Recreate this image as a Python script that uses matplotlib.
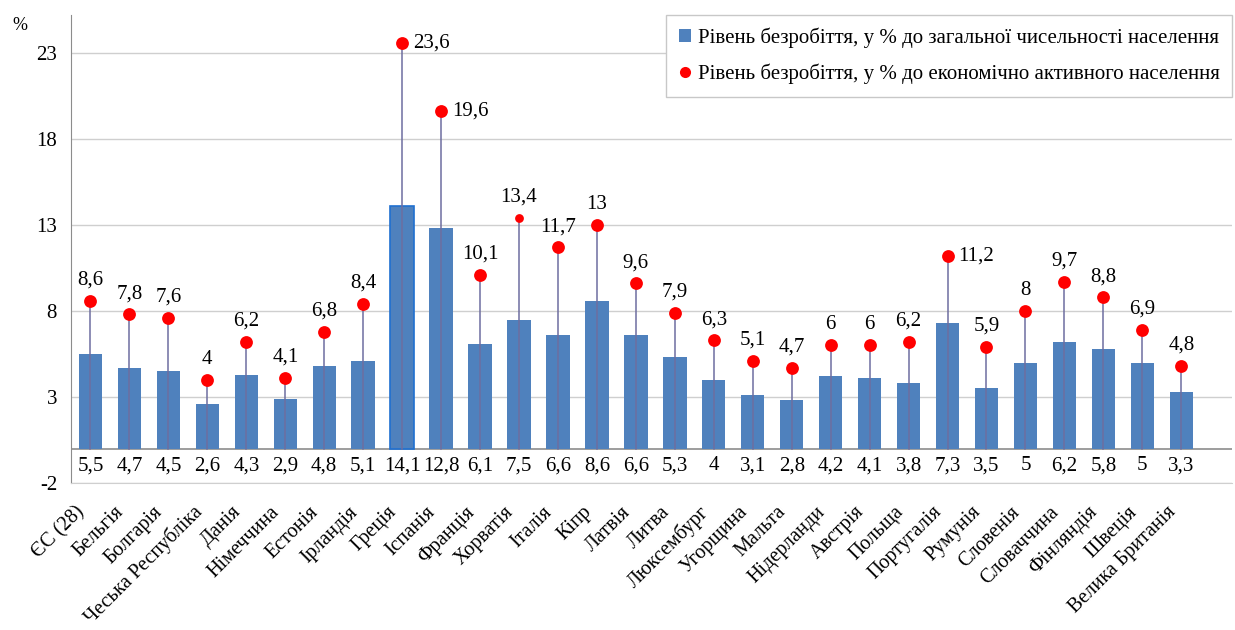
import matplotlib.pyplot as plt
import matplotlib.transforms as mtransforms
from matplotlib.lines import Line2D
from matplotlib.patches import Patch

plt.rcParams['font.family'] = ['Liberation Serif', 'DejaVu Serif']
plt.rcParams['axes.unicode_minus'] = False

countries = ['ЄС (28)', 'Бельгія', 'Болгарія', 'Чеська Республіка', 'Данія',
             'Німеччина', 'Естонія', 'Ірландія', 'Греція', 'Іспанія', 'Франція',
             'Хорватія', 'Італія', 'Кіпр', 'Латвія', 'Литва', 'Люксембург',
             'Угорщина', 'Мальта', 'Нідерланди', 'Австрія', 'Польща',
             'Португалія', 'Румунія', 'Словенія', 'Словаччина', 'Фінляндія',
             'Швеція', 'Велика Британія']
# % of total population
total_rate = [5.5, 4.7, 4.5, 2.6, 4.3, 2.9, 4.8, 5.1, 14.1, 12.8, 6.1, 7.5, 6.6,
              8.6, 6.6, 5.3, 4, 3.1, 2.8, 4.2, 4.1, 3.8, 7.3, 3.5, 5, 6.2, 5.8,
              5, 3.3]
# % of economically active population
active_rate = [8.6, 7.8, 7.6, 4, 6.2, 4.1, 6.8, 8.4, 23.6, 19.6, 10.1, 13.4,
               11.7, 13, 9.6, 7.9, 6.3, 5.1, 4.7, 6, 6, 6.2, 11.2, 5.9, 8, 9.7,
               8.8, 6.9, 4.8]
label_right = ['Греція', 'Іспанія', 'Португалія']

bar_color = '#4F81BD'
stem_color = '#6E6EA0'
fs = 15


def fmt(v):
    return f'{v:g}'.replace('.', ',')


fig = plt.figure(figsize=(12.35, 6.3), dpi=100)
ax = fig.add_axes([0.0575, 0.2333, 0.94, 0.7427])

x = list(range(len(countries)))
ax.bar(x, total_rate, width=0.6, color=bar_color, zorder=2)
# highlighted outline on the Greece bar
ax.bar(8, total_rate[8], width=0.6, color=bar_color, edgecolor='#1F6FD0',
       linewidth=1.2, zorder=2)

for i, v in enumerate(active_rate):
    ax.plot([i, i], [0, v], color=stem_color, lw=1.1, zorder=3)
    size = 40 if countries[i] == 'Хорватія' else 85
    ax.scatter(i, v, s=size, color='#FF0000', zorder=4, linewidths=0)
    if countries[i] in label_right:
        ax.annotate(fmt(v), (i, v), xytext=(8, 0), textcoords='offset points',
                    ha='left', va='center', fontsize=fs)
    else:
        ax.annotate(fmt(v), (i, v), xytext=(0, 8), textcoords='offset points',
                    ha='center', va='bottom', fontsize=fs)

for i, v in enumerate(total_rate):
    ax.text(i, -1.0, fmt(v), ha='center', va='center', fontsize=fs)

ax.axhline(0, color='#8C8C8C', lw=1.2, zorder=1)
ax.set_xlim(-0.5, 29.3)
ax.set_ylim(-2, 25.2)
ax.set_yticks(range(-2, 24, 5))
ax.yaxis.grid(True, color='#CFCFCF', lw=1)
ax.set_axisbelow(True)
ax.tick_params(axis='y', length=0, labelsize=fs, pad=10)
ax.tick_params(axis='x', length=0, pad=19)
ax.set_xticks(x)
ax.set_xticklabels(countries, rotation=45, ha='right', va='center',
                   rotation_mode='anchor', fontsize=14.5)
shift = mtransforms.ScaledTranslation(-6 / 72, 0, fig.dpi_scale_trans)
for lbl in ax.get_xticklabels():
    lbl.set_transform(lbl.get_transform() + shift)
for side in ['top', 'right']:
    ax.spines[side].set_visible(False)
ax.spines['left'].set_color('#8C8C8C')
ax.spines['bottom'].set_color('#CFCFCF')

fig.text(0.010, 0.952, '%', fontsize=13)

handles = [
    Patch(facecolor=bar_color, edgecolor='none'),
    Line2D([], [], marker='o', color='none', markerfacecolor='#FF0000',
           markeredgecolor='none', markersize=8),
]
labels = ['Рівень безробіття, у % до загальної чисельності населення',
          'Рівень безробіття, у % до економічно активного населення']
leg = ax.legend(handles, labels, loc='upper right', bbox_to_anchor=(1.0, 1.0),
                borderaxespad=0, fontsize=fs, frameon=True, fancybox=False,
                edgecolor='#C8C8C8', framealpha=1, handlelength=0.6,
                handleheight=0.6, handletextpad=0.3, labelspacing=0.75,
                borderpad=0.6)
leg.get_frame().set_linewidth(1)

fig.savefig('out.png', dpi=100)
